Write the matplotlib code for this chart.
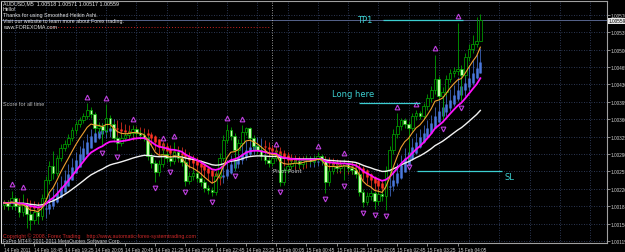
import matplotlib
matplotlib.use("Agg")
import matplotlib.pyplot as plt
import numpy as np
import pandas as pd
from matplotlib.patches import Rectangle

# AUDUSD M5, 14 Feb 2011 18:05 .. 15 Feb 04:35, prices in points above 1.00000
open_pts = [188, 192, 186, 202, 186, 174, 190, 170, 158, 174,
            166, 202, 238, 266, 252, 282, 302, 310, 322, 338,
            350, 358, 366, 378, 370, 342, 346, 338, 362, 350,
            322, 312, 322, 328, 332, 340, 332, 328, 322, 286,
            272, 254, 270, 290, 282, 276, 294, 282, 274, 236,
            246, 252, 242, 234, 222, 218, 214, 246, 282, 318,
            338, 326, 298, 312, 334, 342, 322, 306, 298, 286,
            278, 272, 282, 288, 234, 258, 266, 272, 276, 270,
            278, 282, 276, 282, 286, 278, 234, 256, 266, 262,
            266, 272, 262, 258, 250, 214, 194, 206, 212, 196,
            210, 206, 258, 298, 330, 346, 358, 350, 342, 366,
            372, 366, 386, 402, 418, 442, 406, 414, 442, 454,
            458, 462, 450, 486, 502, 512, 518]
close_pts = [192, 186, 202, 186, 174, 190, 170, 158, 174, 166,
             202, 238, 266, 252, 282, 302, 310, 322, 338, 350,
             358, 366, 378, 370, 342, 346, 338, 362, 350, 322,
             312, 322, 328, 332, 340, 332, 328, 322, 286, 272,
             254, 270, 290, 282, 276, 294, 282, 274, 236, 246,
             252, 242, 234, 222, 218, 214, 246, 282, 318, 338,
             326, 298, 312, 334, 342, 322, 306, 298, 286, 278,
             272, 282, 288, 234, 258, 266, 272, 276, 270, 278,
             282, 276, 282, 286, 278, 234, 256, 266, 262, 266,
             272, 262, 258, 250, 214, 194, 206, 212, 196, 210,
             206, 258, 298, 330, 346, 358, 350, 342, 366, 372,
             366, 386, 402, 418, 442, 406, 414, 442, 454, 458,
             462, 450, 486, 502, 512, 518, 559]
high_pts = [198, 198, 216, 206, 192, 210, 194, 176, 180, 182,
            210, 246, 276, 296, 288, 310, 318, 330, 344, 356,
            364, 372, 392, 384, 374, 354, 352, 390, 368, 356,
            328, 330, 334, 338, 348, 344, 338, 334, 326, 292,
            278, 278, 310, 296, 288, 314, 300, 288, 280, 254,
            260, 258, 248, 240, 228, 224, 254, 292, 328, 350,
            344, 332, 320, 348, 345, 344, 328, 312, 304, 292,
            284, 288, 298, 292, 264, 272, 278, 282, 280, 284,
            288, 286, 288, 294, 290, 282, 262, 272, 272, 272,
            280, 276, 268, 264, 254, 220, 214, 218, 216, 216,
            216, 266, 306, 340, 372, 362, 362, 356, 372, 378,
            376, 392, 410, 426, 490, 448, 424, 450, 462, 466,
            554, 470, 494, 512, 530, 566, 571]
low_pts = [180, 178, 180, 178, 164, 166, 142, 138, 150, 150,
           158, 194, 230, 240, 246, 276, 296, 304, 316, 330,
           344, 352, 360, 362, 334, 332, 306, 330, 342, 314,
           298, 306, 316, 322, 326, 326, 320, 316, 278, 262,
           234, 246, 264, 274, 266, 270, 276, 266, 226, 230,
           238, 234, 226, 214, 210, 206, 208, 240, 276, 312,
           318, 258, 290, 306, 328, 316, 298, 290, 278, 270,
           264, 266, 276, 226, 228, 252, 260, 266, 262, 264,
           270, 270, 270, 276, 270, 212, 226, 250, 254, 256,
           238, 254, 250, 242, 206, 184, 188, 198, 180, 188,
           196, 178, 250, 290, 322, 338, 342, 276, 336, 358,
           360, 360, 378, 394, 410, 398, 354, 406, 436, 446,
           450, 396, 444, 478, 494, 506, 517]

fractal_up = [2, 5, 22, 27, 34, 42, 45, 59, 63, 72, 83, 90, 104, 109, 114, 120]
fractal_dn = [26, 30, 40, 44, 48, 55, 61, 73, 85, 90, 95, 98, 101, 107, 116, 121]

time_ticks = [0, 8, 16, 24, 32, 40, 48, 56, 64, 72, 80, 88, 96, 104, 112, 120]
time_labels = ["14 Feb 2011", "14 Feb 18:45", "14 Feb 19:25", "14 Feb 20:05",
               "14 Feb 20:45", "14 Feb 21:25", "14 Feb 22:05", "14 Feb 22:45",
               "14 Feb 23:25", "15 Feb 00:05", "15 Feb 00:45", "15 Feb 01:25",
               "15 Feb 02:05", "15 Feb 02:45", "15 Feb 03:25", "15 Feb 04:05"]
price_ticks = [1.00115, 1.00150, 1.00185, 1.00220, 1.00255, 1.00290, 1.00325,
               1.00360, 1.00395, 1.00430, 1.00465, 1.00500, 1.00535, 1.00570]

last_price = 1.00559
red_level = 1.00546
tp1_level = 1.00560
long_level = 1.00393
sl_level = 1.00256
separator_bar = 71

o = 1 + np.array(open_pts) / 1e5
c = 1 + np.array(close_pts) / 1e5
h = 1 + np.array(high_pts) / 1e5
l = 1 + np.array(low_pts) / 1e5
n = len(c)
x = np.arange(n)


def ema(a, span):
    return pd.Series(a).ewm(span=span, adjust=False).mean().values


# Smoothed Heikin Ashi
so, sh, sl_, sc = ema(o, 9), ema(h, 9), ema(l, 9), ema(c, 9)
hac = (so + sh + sl_ + sc) / 4
hao = np.zeros(n)
hao[0] = (so[0] + sc[0]) / 2
for i in range(1, n):
    hao[i] = (hao[i - 1] + hac[i - 1]) / 2
hah = np.maximum(sh, np.maximum(hao, hac))
hal = np.minimum(sl_, np.minimum(hao, hac))
hao2, hac2 = ema(hao, 3), ema(hac, 3)
hah2, hal2 = ema(hah, 3), ema(hal, 3)

W, H = 625, 253
fig = plt.figure(figsize=(W / 100, H / 100), dpi=100, facecolor="black")
ax = fig.add_axes([1 / W, 9 / H, 606 / W, 242 / H])
ax.set_facecolor("black")
ax.set_xlim(-0.8, 159.5)
ax.set_ylim(1.00111, 1.00598)

# grid
for p in price_ticks:
    ax.axhline(p, color="#3b4a6e", lw=0.6, ls=(0, (1, 2)), zorder=0)
for k in range(20):
    ax.axvline(3 + 8 * k, color="#3b4a6e", lw=0.6, ls=(0, (1, 2)), zorder=0)

ax.axhline(last_price, color="#56648c", lw=0.7, zorder=1)
ax.hlines(red_level, 12, 70, color="#d02020", lw=0.7, ls=(0, (1, 2)), zorder=1)
ax.axvline(separator_bar, color="#c8c8c8", lw=0.6, ls=(0, (1, 2)), zorder=1)

# heikin ashi bars
ha_col = np.where(hac2 >= hao2, "#4a78dc", "#ff3424")
ax.vlines(x, hal2, hah2, colors=ha_col, lw=0.5, zorder=2)
ax.vlines(x, hao2, hac2, colors=ha_col, lw=1.8, zorder=2)

# candles
ax.vlines(x, l, h, colors="#00a000", lw=0.6, zorder=3)
for i in range(n):
    bot = min(o[i], c[i])
    top = max(o[i], c[i])
    face = "black" if c[i] >= o[i] else "#c8ffb0"
    ax.add_patch(Rectangle((i - 0.35, bot), 0.7, max(top - bot, 0.000006),
                           facecolor=face, edgecolor="#00b000", lw=0.5, zorder=4))

# moving averages
ax.plot(x, ema(c, 45), color="#f2f2f2", lw=1.0, zorder=5)
ax.plot(x, ema(c, 20), color="#ff10ff", lw=1.3, zorder=6)
ax.plot(x, ema(c, 7), color="#f0a030", lw=0.8, zorder=6)

# fractals
ax.plot(fractal_up, h[fractal_up] + 0.00013, ls="none", marker="^", ms=3.4,
        mfc="none", mec="#c040e0", mew=0.8, zorder=7)
ax.plot(fractal_dn, l[fractal_dn] - 0.00013, ls="none", marker="v", ms=3.4,
        mfc="none", mec="#c040e0", mew=0.8, zorder=7)

# trade levels
cyan = "#3ccfd0"
ax.hlines(tp1_level, 100.3, 121.4, color=cyan, lw=0.9, zorder=8)
ax.hlines(long_level, 94, 110, color=cyan, lw=0.9, zorder=8)
ax.hlines(sl_level, 109.3, 131.7, color=cyan, lw=0.9, zorder=8)
ax.text(93.5, tp1_level, "TP1", color=cyan, fontsize=6, va="center", zorder=8)
ax.text(86.8, 1.00412, "Long here", color=cyan, fontsize=6, va="center", zorder=8)
ax.text(132.3, 1.00244, "SL", color=cyan, fontsize=6, va="center", zorder=8)
ax.text(71.2, 1.00256, "Pivot Point", color="#c8c8c8", fontsize=4, va="center", zorder=8)

# axes
small = ["Liberation Sans", "DejaVu Sans"]
for s in ax.spines.values():
    s.set_color("#a0a0a0")
    s.set_linewidth(0.8)
ax.spines["left"].set_color("#e0e0e0")
ax.yaxis.tick_right()
ax.set_yticks(price_ticks)
ax.set_yticklabels(["%.5f" % p for p in price_ticks], family=small)
ax.set_xticks(time_ticks)
ax.set_xticklabels(time_labels, family=small)
ax.tick_params(colors="#a0a0a0", labelcolor="#d0d0d0", labelsize=3.4,
               length=2, width=0.6, pad=0.8)
for lab in ax.get_xticklabels():
    lab.set_horizontalalignment("left")

fig.text(609 / W, 1 - 22 / H, "1.00559", fontsize=3.4, family=small, color="black",
         va="center", bbox=dict(facecolor="#e8e8e8", edgecolor="none", pad=0.5))

info = ["AUDUSD,M5  1.00518 1.00571 1.00517 1.00559",
        "Hello!",
        "Thanks for using Smoothed Heikin Ashi.",
        "Visit our website to learn more about Forex trading.",
        "www.FOREXOMA.com"]
for k, t in enumerate(info):
    fig.text(3 / W, 1 - (4 + 5.8 * k) / H, t, fontsize=3.8, family=small,
             color="#e8e8e8", va="center")
fig.text(3 / W, 1 - 105 / H, "Score for all time", fontsize=4, family=small,
         color="#b8b8b8", va="center")
fig.text(3 / W, 1 - 236.5 / H,
         "Copyright \u00a9 2008, Forex Trading    http://www.automatic-forex-systemtrading.com",
         fontsize=3.8, family=small, color="#d02828", va="center")
fig.text(3 / W, 1 - 241 / H, "FxPro MT4\u00ae 2001-2011 MetaQuotes Software Corp.",
         fontsize=3.6, family=small, color="#c8c8c8", va="center")

fig.savefig("out.png", dpi=100, facecolor="black")
